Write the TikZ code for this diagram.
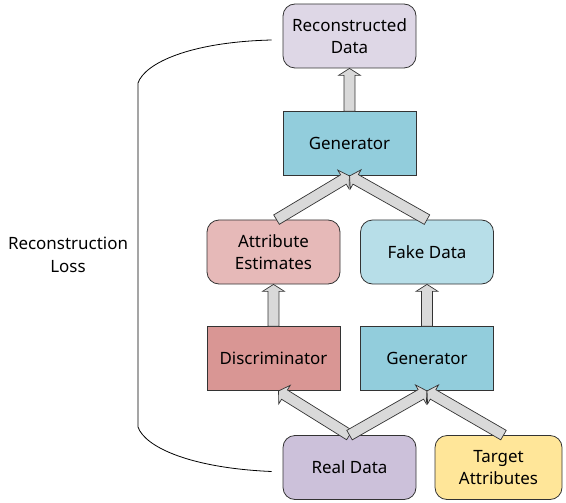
\documentclass[tikz,border=0pt]{standalone}
\usepackage{fontspec}
\setmainfont{Noto Sans}
\usetikzlibrary{calc}
\definecolor{recfill}{HTML}{DED7E6}
\definecolor{genfill}{HTML}{92CDDC}
\definecolor{aefill}{HTML}{E6B9B8}
\definecolor{fdfill}{HTML}{B7DEE8}
\definecolor{discfill}{HTML}{D99694}
\definecolor{realfill}{HTML}{CCC1DA}
\definecolor{tafill}{HTML}{FFE699}
\definecolor{arrfill}{HTML}{D9D9D9}
\definecolor{edge}{HTML}{333333}
\tikzset{
  box/.style={draw=edge, line width=0.8pt, minimum width=133bp, minimum height=64bp,
    inner sep=0pt, align=center, font=\fontsize{17}{22}\selectfont, text=black},
  rbox/.style={box, rounded corners=12bp},
  blockarrow/.style={draw=edge, fill=arrfill, line width=0.7pt, line join=miter},
  losscurve/.style={draw=black, line width=0.8pt},
}
\newcommand\blockarr[2]{%
  \path let \p1=(#1), \p2=(#2) in \pgfextra{%
    \pgfmathsetmacro\baang{atan2(\y2-\y1,\x2-\x1)}%
    \pgfmathsetmacro\balen{veclen(\x2-\x1,\y2-\y1)}%
    \xdef\baangG{\baang}\xdef\balenG{\balen}};
  \begin{scope}[shift={(#1)}, rotate=\baangG]
    \draw[blockarrow] (0pt,-5.5pt) -- (\balenG pt-7pt,-5.5pt) -- (\balenG pt-7pt,-11pt)
      -- (\balenG pt,0pt) -- (\balenG pt-7pt,11pt) -- (\balenG pt-7pt,5.5pt) -- (0pt,5.5pt) -- cycle;
  \end{scope}}
\begin{document}
\begin{tikzpicture}[x=1bp,y=-1bp]
\useasboundingbox (0,0) rectangle (566,503);
% nodes
\node[rbox, fill=recfill] (rec) at (349.5,36) {Reconstructed\\Data};
\node[box, fill=genfill] (gen1) at (349.5,143.5) {Generator};
\node[rbox, fill=aefill] (ae) at (273.5,252) {Attribute\\Estimates};
\node[rbox, fill=fdfill] (fd) at (427,252) {Fake Data};
\node[box, fill=discfill] (disc) at (273.5,358.5) {Discriminator};
\node[box, fill=genfill] (gen2) at (427,358.5) {Generator};
\node[rbox, fill=realfill] (real) at (349.5,467.5) {Real Data};
\node[rbox, fill=tafill, minimum width=127bp] (ta) at (498.5,467.5) {Target\\Attributes};
\node[font=\fontsize{17}{23}\selectfont, align=center, text=black] (lossl) at (68,255) {Reconstruction\\Loss};
% arrow end points
\coordinate (aetail) at ($(ae.north)+(3,0)$);
\coordinate (disctip) at ($(disc.south)+(5,0)$);
\coordinate (tatail) at ($(ta.north)+(5,0)$);
\coordinate (lossA) at ($(rec.west)+(-11,4)$);
\coordinate (lossB) at ($(real.west)+(-11,4)$);
% block arrows
\blockarr{gen1.north}{rec.south}
\blockarr{disc.north}{ae.south}
\blockarr{gen2.north}{fd.south}
\blockarr{aetail}{gen1.south}
\blockarr{fd.north}{gen1.south}
\blockarr{real.north}{disctip}
\blockarr{real.north}{gen2.south}
\blockarr{tatail}{gen2.south}
% loss curve
\draw[losscurve] (lossA) .. controls (190,42) and (145,63) .. (138,83)
  -- (138,427) .. controls (145,447) and (190,468) .. (lossB);
\end{tikzpicture}
\end{document}
